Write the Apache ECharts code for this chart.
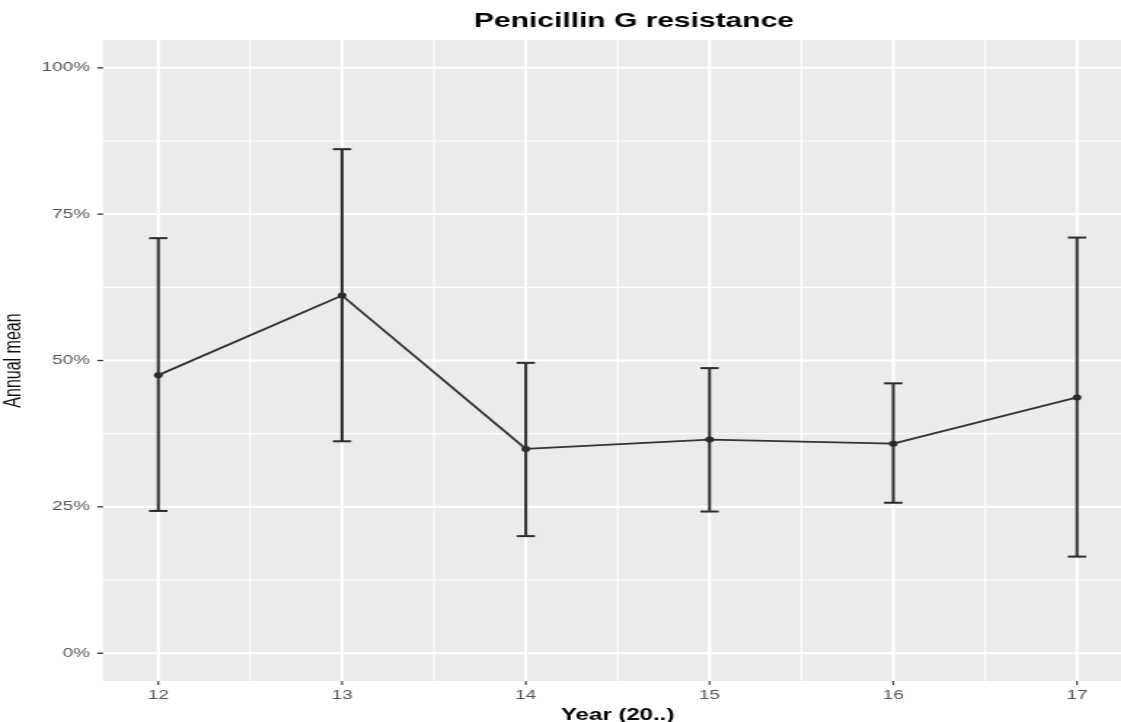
<!DOCTYPE html>
<html>
<head>
<meta charset="utf-8">
<script src="https://cdn.jsdelivr.net/npm/echarts@6/dist/echarts.min.js"></script>
<style>
html,body{margin:0;padding:0;background:#fff;overflow:hidden;width:1121px;height:722px;}
#c{width:780px;height:722px;transform:scaleX(1.456);transform-origin:0 0;}
</style>
</head>
<body>
<div id="c"></div>
<script>
// ---- data ----
var years = [12, 13, 14, 15, 16, 17];
var means = [47.5, 61.1, 34.9, 36.5, 35.8, 43.7];
var upper = [70.9, 86.1, 49.6, 48.7, 46.1, 71.0];
var lower = [24.3, 36.2, 20.0, 24.2, 25.7, 16.5];
var xTicks = [12, 13, 14, 15, 16, 17];
var xMinorTicks = [12.5, 13.5, 14.5, 15.5, 16.5];
var yTicks = [0, 25, 50, 75, 100];
var yMinorTicks = [12.5, 37.5, 62.5, 87.5];
var yTickLabels = ['0%', '25%', '50%', '75%', '100%'];

var X_MIN = 11.7, X_MAX = 17.3, Y_MIN = -4.75, Y_MAX = 104.75;
var FONT = "'Liberation Sans', Arial, Helvetica, sans-serif";

var chart = echarts.init(document.getElementById('c'));

function near(a, b) { return Math.abs(a - b) < 1e-6; }

function gridRender(orient, width, color) {
  return function (params, api) {
    var cs = params.coordSys;
    var v = api.value(0);
    if (orient === 'h') {
      var y = api.coord([X_MIN, v])[1];
      return {type: 'line', shape: {x1: cs.x, y1: y, x2: cs.x + cs.width, y2: y},
              style: {stroke: color, lineWidth: width}};
    } else {
      var x = api.coord([v, Y_MIN])[0];
      return {type: 'line', shape: {x1: x, y1: cs.y, x2: x, y2: cs.y + cs.height},
              style: {stroke: color, lineWidth: width}};
    }
  };
}

function tickRender(orient) {
  return function (params, api) {
    var cs = params.coordSys;
    var v = api.value(0);
    if (orient === 'y') {
      var y = api.coord([X_MIN, v])[1];
      return {type: 'line', shape: {x1: cs.x - 4, y1: y, x2: cs.x, y2: y},
              style: {stroke: '#333', lineWidth: 1.3}};
    } else {
      var x = api.coord([v, Y_MIN])[0];
      var yb = cs.y + cs.height;
      return {type: 'line', shape: {x1: x, y1: yb, x2: x, y2: yb + 4},
              style: {stroke: '#333', lineWidth: 1.1}};
    }
  };
}

var capHalf = 0.05;
var errData = years.map(function (y, i) { return [y, lower[i], upper[i]]; });
var lineData = years.map(function (y, i) { return [y, means[i]]; });

var option = {
  animation: false,
  backgroundColor: '#ffffff',
  title: {
    text: 'Penicillin G resistance',
    left: 435.4, top: 11, padding: 0,
    textAlign: 'center',
    textStyle: {fontFamily: FONT, fontWeight: 'bold', fontSize: 20.6, color: '#000'}
  },
  grid: {
    left: 70.85, top: 40, width: 706.7, height: 641,
    outerBoundsMode: 'none', containLabel: false,
    show: true, backgroundColor: '#EBEBEB', borderWidth: 0
  },
  xAxis: {
    type: 'value', min: X_MIN, max: X_MAX, interval: 0.1,
    name: 'Year (20..)', nameLocation: 'middle', nameGap: 18,
    nameTextStyle: {fontFamily: FONT, fontSize: 16.5, fontWeight: 'bold', color: '#000'},
    axisLine: {show: false}, axisTick: {show: false}, splitLine: {show: false},
    axisLabel: {
      margin: 8, fontFamily: FONT, fontSize: 13, color: '#555',
      formatter: function (v) {
        for (var i = 0; i < xTicks.length; i++) if (near(v, xTicks[i])) return String(xTicks[i]);
        return '';
      }
    }
  },
  yAxis: {
    type: 'value', min: Y_MIN, max: Y_MAX, interval: 0.25,
    name: 'Annual mean', nameLocation: 'middle', nameGap: 47, nameRotate: 90,
    nameTextStyle: {fontFamily: FONT, fontSize: 16, color: '#111'},
    axisLine: {show: false}, axisTick: {show: false}, splitLine: {show: false},
    axisLabel: {
      margin: 9, fontFamily: FONT, fontSize: 13, color: '#555',
      formatter: function (v) {
        for (var i = 0; i < yTicks.length; i++) if (near(v, yTicks[i])) return yTickLabels[i];
        return '';
      }
    }
  },
  series: [
    {type: 'custom', z: 1, silent: true, clip: true, data: yMinorTicks.map(function (v) { return [v]; }),
     renderItem: gridRender('h', 1.1, '#ffffff')},
    {type: 'custom', z: 1, silent: true, clip: true, data: xMinorTicks.map(function (v) { return [v]; }),
     renderItem: gridRender('v', 1.1, '#ffffff')},
    {type: 'custom', z: 1, silent: true, clip: true, data: yTicks.map(function (v) { return [v]; }),
     renderItem: gridRender('h', 2.1, '#ffffff')},
    {type: 'custom', z: 1, silent: true, clip: true, data: xTicks.map(function (v) { return [v]; }),
     renderItem: gridRender('v', 2.0, '#ffffff')},
    {type: 'custom', z: 1, silent: true, clip: false, data: yTicks.map(function (v) { return [v]; }),
     renderItem: tickRender('y')},
    {type: 'custom', z: 1, silent: true, clip: false, data: xTicks.map(function (v) { return [v]; }),
     renderItem: tickRender('x')},
    {
      type: 'custom', z: 3, silent: true, data: errData,
      encode: {x: 0, y: [1, 2]},
      renderItem: function (params, api) {
        var x = api.value(0), lo = api.value(1), hi = api.value(2);
        var pHi = api.coord([x, hi]), pLo = api.coord([x, lo]);
        var cL = api.coord([x - capHalf, hi])[0], cR = api.coord([x + capHalf, hi])[0];
        var st = {stroke: '#2b2b2b', lineWidth: 2};
        return {type: 'group', children: [
          {type: 'line', shape: {x1: pHi[0], y1: pHi[1], x2: pLo[0], y2: pLo[1]}, style: st},
          {type: 'line', shape: {x1: cL, y1: pHi[1], x2: cR, y2: pHi[1]}, style: st},
          {type: 'line', shape: {x1: cL, y1: pLo[1], x2: cR, y2: pLo[1]}, style: st}
        ]};
      }
    },
    {
      type: 'line', z: 4, data: lineData, silent: true,
      symbol: 'circle', symbolSize: 6,
      itemStyle: {color: '#2b2b2b'},
      lineStyle: {color: '#333', width: 1.8}
    }
  ]
};
chart.setOption(option);
</script>
</body>
</html>
